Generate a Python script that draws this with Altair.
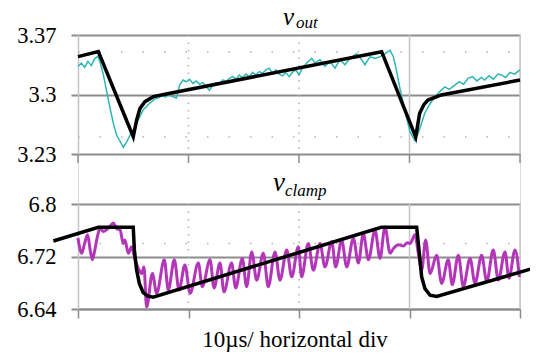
import altair as alt
import pandas as pd

# ---------------- data (time in microseconds) ----------------
t_vout_meas = [0.0, 0.3, 0.6, 0.9, 1.2, 1.5, 1.8, 2.0, 2.3, 2.6, 2.9, 3.2, 3.5, 3.8, 4.1, 4.4, 4.7,
               5.0, 5.3, 5.6, 5.9, 6.2, 6.5, 6.7, 7.0, 7.3, 7.6, 7.9, 8.2, 8.5, 8.9, 9.2, 9.5, 9.8,
               10.1, 10.4, 10.7, 11.0, 11.3, 11.6, 11.9, 12.2, 12.5, 12.8, 13.1, 13.4, 13.7, 14.0,
               14.3, 14.6, 14.9, 15.2, 15.5, 15.8, 16.1, 16.4, 16.7, 17.0, 17.3, 17.6, 17.9, 18.2,
               18.5, 18.8, 19.1, 19.4, 19.7, 20.0, 20.3, 20.7, 21.15, 21.45, 21.9, 22.35, 22.8,
               23.26, 23.71, 24.16, 24.62, 25.22, 25.67, 25.97, 26.43, 26.88, 27.33, 27.78, 28.24,
               28.54, 28.84, 29.14, 29.6, 30.05, 30.47, 30.77, 31.08, 31.38, 31.8, 32.28, 32.7,
               33.19, 33.6, 34.1, 34.5, 34.9, 35.3, 35.7, 36.1, 36.5, 36.8, 37.2, 37.6, 38.0, 38.3,
               38.7, 39.1, 39.5, 40.0]
v_vout_meas = [3.333, 3.337, 3.332, 3.339, 3.334, 3.342, 3.345, 3.338, 3.323, 3.303, 3.284, 3.266,
               3.252, 3.245, 3.238, 3.244, 3.252, 3.258, 3.266, 3.274, 3.282, 3.286, 3.290, 3.292,
               3.295, 3.296, 3.299, 3.297, 3.300, 3.298, 3.296, 3.311, 3.317, 3.315, 3.318, 3.313,
               3.316, 3.312, 3.314, 3.309, 3.305, 3.311, 3.314, 3.312, 3.317, 3.315, 3.319, 3.321,
               3.318, 3.323, 3.320, 3.324, 3.321, 3.326, 3.323, 3.327, 3.325, 3.329, 3.331, 3.325,
               3.329, 3.324, 3.322, 3.326, 3.321, 3.326, 3.329, 3.323, 3.331, 3.337, 3.3425, 3.337,
               3.341, 3.333, 3.339, 3.331, 3.341, 3.335, 3.3425, 3.348, 3.341, 3.335, 3.3445,
               3.3425, 3.3445, 3.348, 3.352, 3.3445, 3.327, 3.307, 3.280, 3.256, 3.246, 3.254,
               3.266, 3.278, 3.288, 3.297, 3.303, 3.309, 3.306, 3.311, 3.315, 3.312, 3.319, 3.321,
               3.316, 3.320, 3.317, 3.322, 3.318, 3.324, 3.323, 3.320, 3.326, 3.324, 3.329]

t_vout_sim = [0.0, 1.84, 5.0, 5.31, 5.61, 6.06, 6.82, 7.87, 27.48, 30.56, 30.92, 31.3, 31.67,
              32.88, 40.0]
v_vout_sim = [3.3445, 3.3504, 3.2504, 3.270, 3.2837, 3.2916, 3.2975, 3.3002, 3.3504, 3.250,
              3.278, 3.288, 3.2935, 3.2995, 3.317]

t_clamp_meas = [0.0, 0.33, 0.6, 0.87, 1.1, 1.3, 1.5, 1.69, 1.99, 2.3, 2.59, 2.9, 3.2, 3.5, 3.8,
                4.1, 4.25, 4.55, 4.86, 5.16, 5.46, 5.76, 5.97, 6.21, 6.73, 7.12, 7.81, 8.17, 8.72,
                9.14, 9.68, 10.14, 10.89, 11.25, 11.95, 12.31, 12.85, 13.21, 13.9, 14.27, 14.87,
                15.26, 15.72, 16.17, 16.77, 17.22, 17.83, 18.28, 18.89, 19.34, 19.94, 20.24,
                20.84, 21.3, 21.9, 22.35, 22.96, 23.32, 23.86, 24.32, 24.92, 25.37, 25.82, 26.28,
                26.88, 27.33, 27.78, 28.24, 28.54, 28.99, 29.44, 29.8, 30.05, 30.5, 30.8, 31.1,
                31.46, 31.86, 32.46, 32.91, 33.51, 33.87, 34.42, 34.87, 35.48, 35.93, 36.53,
                36.99, 37.58, 38.04, 38.64, 39.0, 39.55, 39.94]
v_clamp_meas = [6.748, 6.725, 6.740, 6.753, 6.730, 6.715, 6.728, 6.745, 6.763, 6.758, 6.761,
                6.766, 6.771, 6.762, 6.761, 6.740, 6.745, 6.725, 6.735, 6.715, 6.702, 6.694,
                6.704, 6.643, 6.694, 6.664, 6.715, 6.669, 6.715, 6.669, 6.707, 6.664, 6.710,
                6.674, 6.715, 6.672, 6.710, 6.666, 6.710, 6.672, 6.717, 6.674, 6.727, 6.684,
                6.725, 6.674, 6.727, 6.684, 6.730, 6.689, 6.735, 6.689, 6.740, 6.699, 6.740,
                6.704, 6.743, 6.704, 6.745, 6.704, 6.748, 6.710, 6.755, 6.715, 6.760, 6.717,
                6.765, 6.725, 6.732, 6.738, 6.736, 6.741, 6.740, 6.753, 6.725, 6.699, 6.745,
                6.694, 6.722, 6.679, 6.715, 6.677, 6.722, 6.674, 6.717, 6.679, 6.722, 6.682,
                6.730, 6.684, 6.727, 6.687, 6.730, 6.689]

t_clamp_sim = [-2.23, 1.84, 5.0, 5.1, 5.3, 5.55, 5.9, 6.3, 6.8, 27.45, 30.65, 30.86, 31.1, 31.4,
               31.86, 32.46, 41.2]
v_clamp_sim = [6.7436, 6.7645, 6.7645, 6.730, 6.700, 6.679, 6.665, 6.660, 6.658, 6.7645, 6.7645,
               6.730, 6.689, 6.671, 6.661, 6.659, 6.702]

x_ticks = [0, 10, 20, 30, 40]
vout_ticks = [3.23, 3.3, 3.37]
vclamp_ticks = [6.64, 6.72, 6.8]
vout_dot_rows = [3.25, 3.35]
vclamp_dot_rows = [6.74]
dotted_cols = [10, 20]
solid_cols = [30, 40]
title_main = ["v", "v"]
title_sub = ["out", "clamp"]
x_title = "10\u00b5s/ horizontal div"

# ---------------- layout constants ----------------
W, H = 442, 274
TOP_H = 119
BOT_TOP = 169
GRID = "#8c8c8c"
LIGHT = "#c4c4c4"
SERIF = "Liberation Serif"

xs = alt.Scale(domain=[0, 40], nice=False, zero=False)
ys_top = alt.Scale(domain=[3.23, 3.37], range=[TOP_H, 0], nice=False, zero=False)
ys_bot = alt.Scale(domain=[6.64, 6.8], range=[H, BOT_TOP], nice=False, zero=False)

xaxis = alt.Axis(values=x_ticks, labels=False, tickSize=9, tickColor=GRID, tickWidth=1.5,
                 domainColor=GRID, domainWidth=2, grid=False, title=None)


def yaxis(vals):
    return alt.Axis(orient="left", values=vals, format="~g", grid=True, gridColor=GRID,
                    gridWidth=2, tickSize=7, tickColor=GRID, tickWidth=2, domainColor=LIGHT,
                    domainWidth=1.5, labelFont=SERIF, labelFontSize=22.5, labelColor="black",
                    labelPadding=15, title=None)


X = alt.X("t:Q", scale=xs, axis=xaxis)

df_vout_meas = pd.DataFrame({"t": t_vout_meas, "v": v_vout_meas})
df_vout_sim = pd.DataFrame({"t": t_vout_sim, "v": v_vout_sim})
df_clamp_meas = pd.DataFrame({"t": t_clamp_meas, "v": v_clamp_meas})
df_clamp_sim = pd.DataFrame({"t": t_clamp_sim, "v": v_clamp_sim})
df_xt = pd.DataFrame({"t": x_ticks})
df_dc = pd.DataFrame({"t": dotted_cols})
df_sc = pd.DataFrame({"t": solid_cols})
df_vrows = pd.DataFrame({"v": vout_dot_rows})
df_crows = pd.DataFrame({"v": vclamp_dot_rows})
df_titles = pd.DataFrame({"main": title_main, "sub": title_sub})

layers = []
# panel frames / scope grid
for y0, y1 in [(0, TOP_H), (BOT_TOP, H)]:
    layers.append(alt.Chart(df_dc).mark_rule(color="#b0b0b0", strokeDash=[1.5, 6], strokeWidth=1.5)
                  .encode(x=X, y=alt.value(y0), y2=alt.value(y1)))
    layers.append(alt.Chart(df_sc).mark_rule(color=LIGHT, strokeWidth=1.5)
                  .encode(x=X, y=alt.value(y0), y2=alt.value(y1)))
layers.append(alt.Chart(df_vrows).mark_rule(color="#b0b0b0", strokeDash=[1.5, 20], strokeWidth=1.5)
              .encode(y=alt.Y("v:Q", scale=ys_top, axis=None), x=alt.value(0), x2=alt.value(W)))
layers.append(alt.Chart(df_crows).mark_rule(color="#b0b0b0", strokeDash=[1.5, 20], strokeWidth=1.5)
              .encode(y=alt.Y("v:Q", scale=ys_bot, axis=None), x=alt.value(0), x2=alt.value(W)))
# ticks under top panel
layers.append(alt.Chart(df_xt).mark_rule(color=GRID, strokeWidth=1.5)
              .encode(x=X, y=alt.value(TOP_H), y2=alt.value(TOP_H + 9)))

# top panel series
layers.append(alt.Chart(df_vout_meas).mark_line(color="#2fb5b5", strokeWidth=1.5)
              .encode(x=X, y=alt.Y("v:Q", scale=ys_top, axis=yaxis(vout_ticks))))
layers.append(alt.Chart(df_vout_sim).mark_line(color="black", strokeWidth=3.5)
              .encode(x=X, y=alt.Y("v:Q", scale=ys_top, axis=None)))
# bottom panel series
layers.append(alt.Chart(df_clamp_meas).mark_line(color="#c22cc8", strokeWidth=3, interpolate="monotone")
              .encode(x=X, y=alt.Y("v:Q", scale=ys_bot, axis=yaxis(vclamp_ticks))))
layers.append(alt.Chart(df_clamp_meas).mark_line(color="#8e4f93", strokeWidth=0.8, interpolate="monotone")
              .encode(x=X, y=alt.Y("v:Q", scale=ys_bot, axis=None)))
layers.append(alt.Chart(df_clamp_sim).mark_line(color="black", strokeWidth=3.5)
              .encode(x=X, y=alt.Y("v:Q", scale=ys_bot, axis=None)))

# titles
main_pos = [(205, -10), (195, 156)]
sub_pos = [(218, -7), (207, 161)]
main_size = [25, 27]
for i in range(2):
    d = df_titles.iloc[[i]]
    layers.append(alt.Chart(d).mark_text(font=SERIF, fontStyle="italic", fontSize=main_size[i],
                                         align="left", baseline="alphabetic", color="black")
                  .encode(text="main:N", x=alt.value(main_pos[i][0]), y=alt.value(main_pos[i][1])))
    layers.append(alt.Chart(d).mark_text(font=SERIF, fontStyle="italic", fontSize=17, align="left",
                                         baseline="alphabetic", color="black")
                  .encode(text="sub:N", x=alt.value(sub_pos[i][0]), y=alt.value(sub_pos[i][1])))
layers.append(alt.Chart(df_titles.iloc[[0]]).mark_text(font=SERIF, fontSize=23, align="center",
                                                        baseline="alphabetic", color="black",
                                                        text=x_title)
              .encode(x=alt.value(217), y=alt.value(312)))

chart = alt.layer(*layers).resolve_scale(y="independent").properties(
    width=W, height=H,
    autosize=alt.AutoSizeParams(type="none"),
    padding={"left": 70, "top": 27, "right": 10, "bottom": 43},
).configure_view(stroke=None).configure(background="white")

chart.save("out.html", embed_options={"renderer": "svg", "actions": False})
